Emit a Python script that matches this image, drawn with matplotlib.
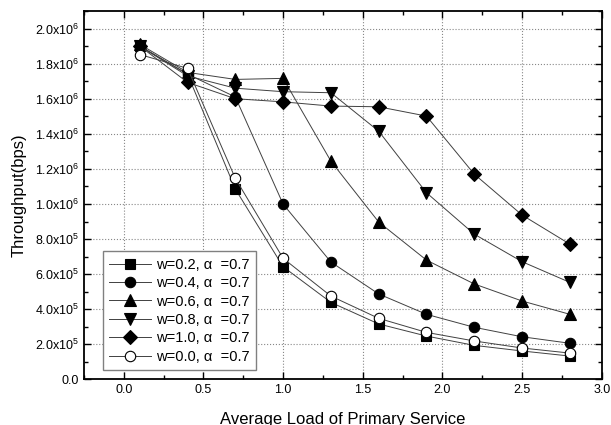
import matplotlib
matplotlib.use('Agg')
import matplotlib.pyplot as plt
from matplotlib.ticker import MultipleLocator

plt.rcParams['font.family'] = ['Liberation Sans', 'DejaVu Sans']
plt.rcParams['mathtext.fontset'] = 'custom'
plt.rcParams['mathtext.rm'] = 'Liberation Sans'
plt.rcParams['mathtext.it'] = 'Liberation Sans:italic'

# load of primary service
load = [0.1, 0.4, 0.7, 1.0, 1.3, 1.6, 1.9, 2.2, 2.5, 2.8]

# throughput in units of 10^6 bps
w02 = [1.90, 1.74, 1.085, 0.642, 0.439, 0.316, 0.247, 0.194, 0.162, 0.133]
w04 = [1.90, 1.74, 1.61, 0.999, 0.669, 0.487, 0.371, 0.297, 0.243, 0.206]
w06 = [1.91, 1.75, 1.71, 1.716, 1.244, 0.897, 0.680, 0.544, 0.447, 0.371]
w08 = [1.90, 1.73, 1.66, 1.64, 1.634, 1.415, 1.064, 0.828, 0.671, 0.553]
w10 = [1.90, 1.693, 1.60, 1.582, 1.558, 1.554, 1.501, 1.170, 0.937, 0.771]
w00 = [1.852, 1.773, 1.146, 0.69, 0.475, 0.348, 0.268, 0.219, 0.179, 0.150]

labels = ['w=0.2, \u03b1  =0.7', 'w=0.4, \u03b1  =0.7', 'w=0.6, \u03b1  =0.7',
          'w=0.8, \u03b1  =0.7', 'w=1.0, \u03b1  =0.7', 'w=0.0, \u03b1  =0.7']

ytick_vals = [0.0, 0.2, 0.4, 0.6, 0.8, 1.0, 1.2, 1.4, 1.6, 1.8, 2.0]
ytick_labels = ['0.0', '2.0x10$^5$', '4.0x10$^5$', '6.0x10$^5$', '8.0x10$^5$',
                '1.0x10$^6$', '1.2x10$^6$', '1.4x10$^6$', '1.6x10$^6$',
                '1.8x10$^6$', '2.0x10$^6$']

fig = plt.figure(figsize=(6.11, 4.25), dpi=100)
ax = fig.add_axes([84/611, 1-379.4/425, 517.7/611, 368.4/425])

series = [w02, w04, w06, w08, w10, w00]
markers = ['s', 'o', '^', 'v', 'D', 'o']
sizes = [7, 7.5, 8.5, 8.5, 7.5, 7.5]
for vals, mk, ms, lab in zip(series, markers, sizes, labels):
    face = 'white' if lab.startswith('w=0.0') else 'black'
    ax.plot(load, [v * 1e6 for v in vals], color='#404040', linewidth=0.7,
            marker=mk, markersize=ms, markerfacecolor=face,
            markeredgecolor='black', markeredgewidth=0.8, label=lab)

ax.set_xlim(-0.25, 3.0)
ax.set_ylim(0, 2.1e6)
ax.set_xticks([0.0, 0.5, 1.0, 1.5, 2.0, 2.5, 3.0])
ax.set_xticklabels(['0.0', '0.5', '1.0', '1.5', '2.0', '2.5', '3.0'])
ax.xaxis.set_minor_locator(MultipleLocator(0.25))
ax.set_yticks([v * 1e6 for v in ytick_vals])
ax.set_yticklabels(ytick_labels)
ax.yaxis.set_minor_locator(MultipleLocator(0.1e6))

ax.tick_params(which='both', direction='in', top=True, right=True, labelsize=9)
ax.tick_params(which='major', length=5, width=1)
ax.tick_params(which='minor', length=3, width=1)
for sp in ax.spines.values():
    sp.set_linewidth(1.3)

ax.grid(True, which='major', linestyle=':', color='#888888', linewidth=0.8)

ax.set_xlabel('Average Load of Primary Service', fontsize=12, labelpad=11)
ax.set_ylabel('Throughput(bps)', fontsize=12, labelpad=6)

leg = ax.legend(loc='lower left', bbox_to_anchor=(0.036, 0.025), borderaxespad=0,
                fontsize=10.5, handlelength=2.9, labelspacing=0.3, fancybox=False,
                framealpha=1, edgecolor='#808080', borderpad=0.45, handletextpad=0.3)
leg.get_frame().set_linewidth(1.0)

fig.savefig('out.png', dpi=100)
